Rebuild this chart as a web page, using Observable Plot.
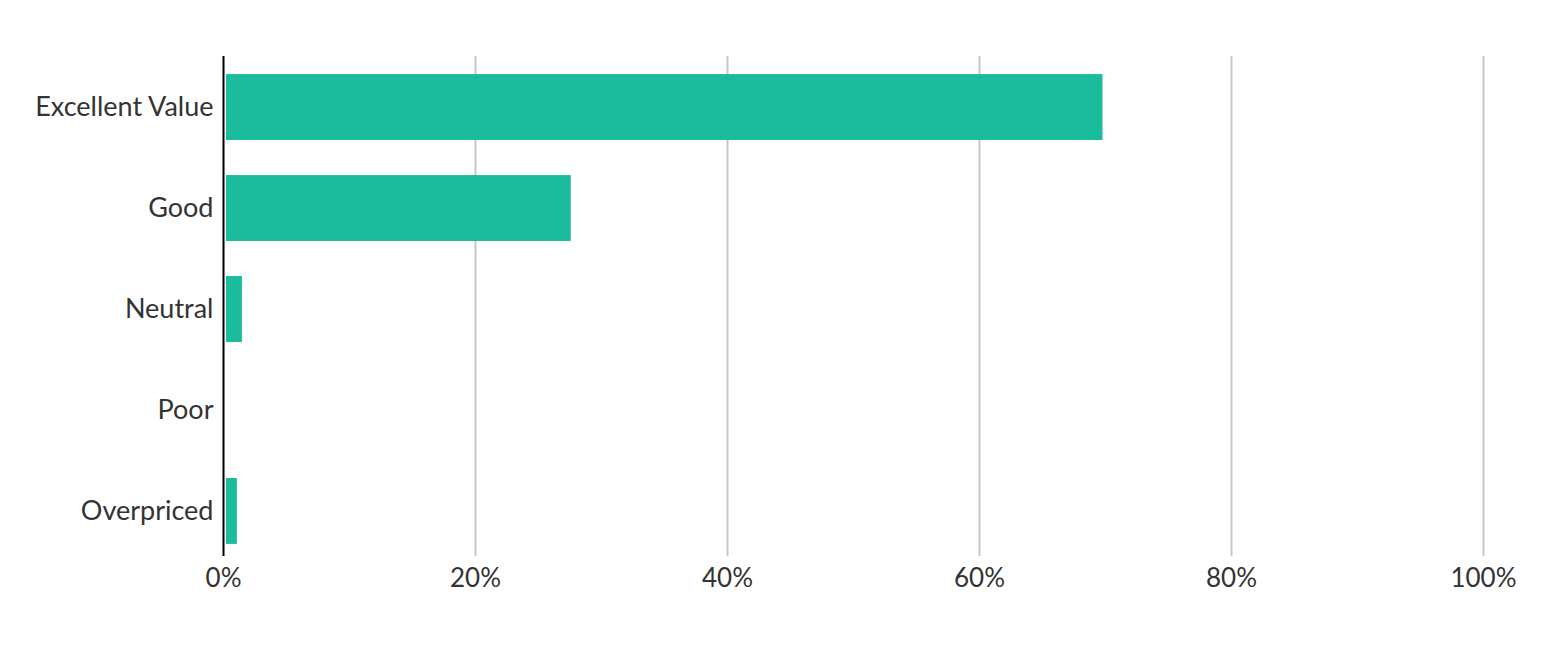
<!DOCTYPE html>
<html>
<head>
<meta charset="utf-8">
<script src="https://cdn.jsdelivr.net/npm/d3@7"></script>
<script src="https://cdn.jsdelivr.net/npm/@observablehq/plot@0.6"></script>
<style>
  html, body { margin: 0; padding: 0; background: #fff; }
  #chart svg { display: block; }
</style>
</head>
<body>
<div id="chart"></div>
<script>
const categories = ["Excellent Value", "Good", "Neutral", "Poor", "Overpriced"];
const shares = [69.8, 27.6, 1.5, 0, 1.1];
const xTicks = [0, 20, 40, 60, 80, 100];

const data = categories.map((c, i) => ({category: c, share: shares[i]}));

const chart = Plot.plot({
  width: 1548,
  height: 668,
  marginTop: 65,
  marginBottom: 115,
  marginLeft: 223,
  marginRight: 65,
  style: {fontFamily: "Lato, sans-serif", color: "#333", background: "#fff"},
  x: {domain: [0, 100], ticks: xTicks, tickFormat: d => d + "%", label: null},
  y: {domain: categories, paddingInner: 0.347, paddingOuter: 0.09, round: false, label: null},
  marks: [
    Plot.gridX(xTicks.filter(d => d > 0), {stroke: "#c8c8c8", strokeOpacity: 1, strokeWidth: 2, insetTop: -9, insetBottom: -3}),
    Plot.barX(data, {x: "share", y: "category", fill: "#1abc9c", insetLeft: 3}),
    Plot.ruleX([0], {stroke: "#000", strokeWidth: 2, insetTop: -9, insetBottom: -3}),
    Plot.axisX(xTicks, {tickSize: 0, tickPadding: 15, fontSize: 26, fill: "#333", tickFormat: d => d + "%", label: null}),
    Plot.axisY({tickSize: 0, tickPadding: 10, fontSize: 27, fill: "#333", label: null})
  ]
});
document.getElementById("chart").append(chart);
</script>
</body>
</html>
